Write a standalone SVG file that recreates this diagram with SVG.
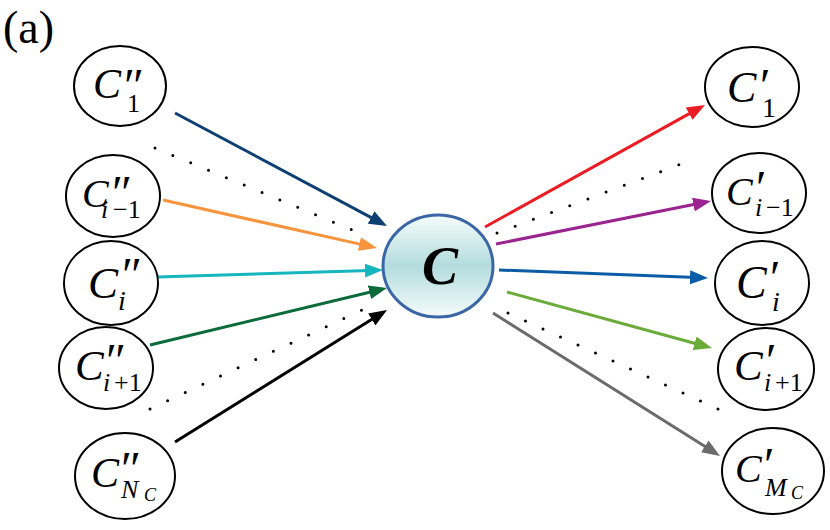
<svg xmlns="http://www.w3.org/2000/svg" width="830" height="530" viewBox="0 0 830 530">
<style>
.nd{fill:#fff;stroke:#000;stroke-width:2}
.c{font-family:"Liberation Serif",serif;font-style:italic}
.u{font-style:normal}
.pr{font-style:normal;font-size:48px}
.ar{fill:none;stroke-width:3}
.dot{fill:none;stroke:#000;stroke-width:3;stroke-linecap:round}
</style>
<defs>
<linearGradient id="g" x1="0" y1="0" x2="0" y2="1">
<stop offset="0" stop-color="#f6fbfb"/><stop offset="0.5" stop-color="#b3dcdd"/><stop offset="1" stop-color="#f6fbfb"/>
</linearGradient>
<marker id="m1" markerUnits="userSpaceOnUse" markerWidth="18" markerHeight="14" refX="13" refY="7" orient="auto"><path d="M0,0L18,7L0,14z" fill="#0d3f73"/></marker>
<marker id="m2" markerUnits="userSpaceOnUse" markerWidth="18" markerHeight="14" refX="13" refY="7" orient="auto"><path d="M0,0L18,7L0,14z" fill="#f7943d"/></marker>
<marker id="m3" markerUnits="userSpaceOnUse" markerWidth="18" markerHeight="14" refX="13" refY="7" orient="auto"><path d="M0,0L18,7L0,14z" fill="#16b6bf"/></marker>
<marker id="m4" markerUnits="userSpaceOnUse" markerWidth="18" markerHeight="14" refX="13" refY="7" orient="auto"><path d="M0,0L18,7L0,14z" fill="#0b6b3a"/></marker>
<marker id="m5" markerUnits="userSpaceOnUse" markerWidth="18" markerHeight="14" refX="13" refY="7" orient="auto"><path d="M0,0L18,7L0,14z" fill="#000"/></marker>
<marker id="m6" markerUnits="userSpaceOnUse" markerWidth="18" markerHeight="14" refX="13" refY="7" orient="auto"><path d="M0,0L18,7L0,14z" fill="#ec1c24"/></marker>
<marker id="m7" markerUnits="userSpaceOnUse" markerWidth="18" markerHeight="14" refX="13" refY="7" orient="auto"><path d="M0,0L18,7L0,14z" fill="#9b2490"/></marker>
<marker id="m8" markerUnits="userSpaceOnUse" markerWidth="18" markerHeight="14" refX="13" refY="7" orient="auto"><path d="M0,0L18,7L0,14z" fill="#0b5ca6"/></marker>
<marker id="m9" markerUnits="userSpaceOnUse" markerWidth="18" markerHeight="14" refX="13" refY="7" orient="auto"><path d="M0,0L18,7L0,14z" fill="#6aab3a"/></marker>
<marker id="m10" markerUnits="userSpaceOnUse" markerWidth="18" markerHeight="14" refX="13" refY="7" orient="auto"><path d="M0,0L18,7L0,14z" fill="#6b6b6b"/></marker>
</defs>
<rect width="830" height="530" fill="#fff"/>
<text x="3" y="43" font-family="Liberation Serif,serif" font-size="46">(a)</text>

<g id="connectors">
<line class="ar" x1="175" y1="113" x2="382.6" y2="223.6" stroke="#0d3f73" marker-end="url(#m1)"/>
<line class="ar" x1="163" y1="200" x2="372.1" y2="246.9" stroke="#f7943d" marker-end="url(#m2)"/>
<line class="ar" x1="157" y1="277" x2="378" y2="270.2" stroke="#16b6bf" marker-end="url(#m3)"/>
<line class="ar" x1="150" y1="345" x2="382.1" y2="289.2" stroke="#0b6b3a" marker-end="url(#m4)"/>
<line class="ar" x1="175" y1="442" x2="382.8" y2="312.6" stroke="#000" marker-end="url(#m5)"/>
<line class="ar" x1="485" y1="227" x2="700.6" y2="107.4" stroke="#ec1c24" marker-end="url(#m6)"/>
<line class="ar" x1="496" y1="244" x2="706.1" y2="202" stroke="#9b2490" marker-end="url(#m7)"/>
<line class="ar" x1="499" y1="270" x2="703" y2="277.8" stroke="#0b5ca6" marker-end="url(#m8)"/>
<line class="ar" x1="507" y1="292" x2="707.2" y2="346.7" stroke="#6aab3a" marker-end="url(#m9)"/>
<line class="ar" x1="493" y1="313" x2="715.8" y2="453.3" stroke="#6b6b6b" marker-end="url(#m10)"/>
<line class="dot" x1="155" y1="148" x2="369" y2="237" stroke-dasharray="0 19.32"/>
<line class="dot" x1="150" y1="409" x2="379" y2="302" stroke-dasharray="0 19.45"/>
<line class="dot" x1="497" y1="233" x2="697" y2="158" stroke-dasharray="0 19.42"/>
<line class="dot" x1="508" y1="313" x2="718" y2="409" stroke-dasharray="0 19.24"/>
</g>

<g id="center">
<ellipse cx="438" cy="266" rx="55" ry="51" fill="url(#g)" stroke="#3b66a6" stroke-width="3"/>
<text x="422" y="284" font-family="Liberation Serif,serif" font-style="italic" font-weight="bold" font-size="54">C</text>
</g>

<g id="in1">
<ellipse class="nd" cx="120" cy="86" rx="46" ry="40"/>
<text class="c"><tspan x="93" y="98" font-size="42">C</tspan><tspan x="124" y="102" class="pr">″</tspan><tspan x="127" y="112" class="u" font-size="26">1</tspan></text>
</g>
<g id="in2">
<ellipse class="nd" cx="113" cy="196" rx="47" ry="41"/>
<text class="c"><tspan x="82" y="207" font-size="40">C</tspan><tspan x="112" y="209" class="pr">″</tspan><tspan x="101" y="218" font-size="26">i</tspan><tspan class="u" font-size="26" x="113" y="218">−1</tspan></text>
</g>
<g id="in3">
<ellipse class="nd" cx="111" cy="283" rx="47" ry="42"/>
<text class="c"><tspan x="88" y="298" font-size="45">C</tspan><tspan x="122" y="291" class="pr">″</tspan><tspan x="118" y="310" font-size="28">i</tspan></text>
</g>
<g id="in4">
<ellipse class="nd" cx="106" cy="368" rx="47" ry="41"/>
<text class="c"><tspan x="75" y="380" font-size="43">C</tspan><tspan x="106" y="377" class="pr">″</tspan><tspan x="103" y="391" font-size="26">i</tspan><tspan class="u" font-size="26" x="114" y="391">+1</tspan></text>
</g>
<g id="in5">
<ellipse class="nd" cx="125" cy="476" rx="50" ry="43"/>
<text class="c"><tspan x="91" y="487" font-size="42">C</tspan><tspan x="121" y="485" class="pr">″</tspan><tspan x="121" y="498" font-size="26">N</tspan><tspan x="144" y="501" font-size="18">C</tspan></text>
</g>

<g id="out1">
<ellipse class="nd" cx="752" cy="87" rx="47" ry="40"/>
<text class="c"><tspan x="727" y="102" font-size="44">C</tspan><tspan x="760" y="102" class="pr">′</tspan><tspan x="762" y="117" class="u" font-size="28">1</tspan></text>
</g>
<g id="out2">
<ellipse class="nd" cx="759" cy="193" rx="47" ry="40"/>
<text class="c"><tspan x="726" y="205" font-size="40">C</tspan><tspan x="756" y="204" class="pr">′</tspan><tspan x="755" y="216" font-size="26">i</tspan><tspan class="u" font-size="26" x="766" y="216">−1</tspan></text>
</g>
<g id="out3">
<ellipse class="nd" cx="762" cy="283" rx="47" ry="42"/>
<text class="c"><tspan x="736" y="298" font-size="46">C</tspan><tspan x="770" y="294" class="pr">′</tspan><tspan x="772" y="311" font-size="28">i</tspan></text>
</g>
<g id="out4">
<ellipse class="nd" cx="766" cy="369" rx="48" ry="41"/>
<text class="c"><tspan x="734" y="380" font-size="43">C</tspan><tspan x="766" y="377" class="pr">′</tspan><tspan x="764" y="391" font-size="26">i</tspan><tspan class="u" font-size="26" x="775" y="391">+1</tspan></text>
</g>
<g id="out5">
<ellipse class="nd" cx="773" cy="471" rx="51" ry="43"/>
<text class="c"><tspan x="735" y="482" font-size="40">C</tspan><tspan x="764" y="481" class="pr">′</tspan><tspan x="765" y="496" font-size="26">M</tspan><tspan x="791" y="499" font-size="18">C</tspan></text>
</g>
</svg>
